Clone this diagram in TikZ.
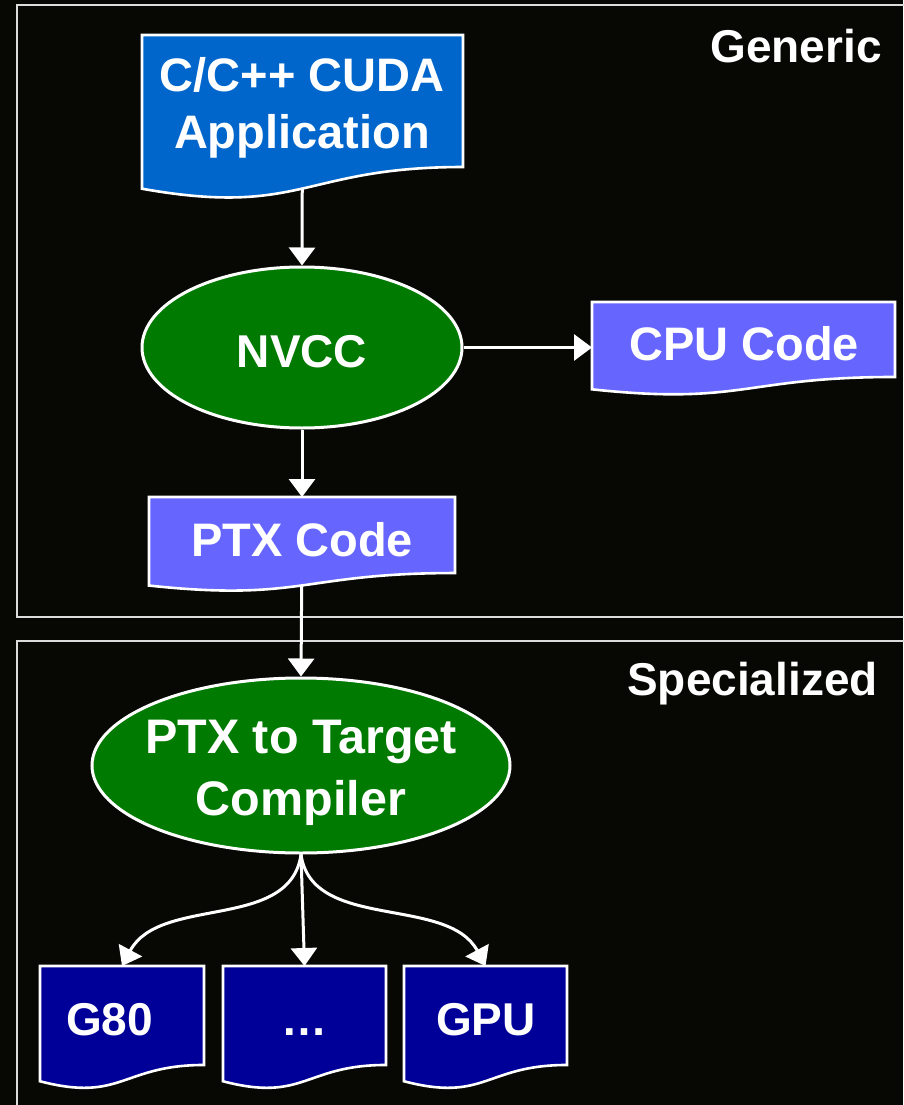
\documentclass[tikz,border=0pt]{standalone}
\usepackage{fontspec}
\setmainfont{Liberation Sans}
\usetikzlibrary{shapes.geometric,arrows.meta,calc}
\pgfdeclarelayer{bg}
\pgfdeclarelayer{shapes}
\pgfsetlayers{bg,shapes,main}
\definecolor{bgcol}{HTML}{070704}
\definecolor{appblue}{HTML}{0066CC}
\definecolor{codeblue}{HTML}{6666FF}
\definecolor{gpublue}{HTML}{000099}
\definecolor{nvgreen}{HTML}{007A00}
\definecolor{panelline}{HTML}{DCDCDC}
\newcommand\docfill[2]{%
  \path[docline,fill=#2] (#1.north west) -- (#1.north east)
   -- ($(#1.north east)!0.802!(#1.south east)$)
   .. controls ($(#1.north)!0.802!(#1.south)$) and ($(#1.north)!1.107!(#1.south)$)
   .. ($(#1.north west)!0.934!(#1.south west)$) -- cycle;}
\begin{document}
\begin{tikzpicture}[x=1pt,y=-1pt,
  doc/.style={rectangle, inner sep=0pt, outer sep=0pt},
  docline/.style={draw=white, line width=2.6pt, line join=miter},
  oval/.style={ellipse, draw=white, line width=3pt, fill=nvgreen, inner sep=0pt},
  txt/.style={text=white, font=\fontsize{46}{56}\selectfont\bfseries, inner sep=0pt, anchor=base},
  big/.style={font=\fontsize{47}{56}\selectfont\bfseries},
  bigger/.style={font=\fontsize{48.5}{56}\selectfont\bfseries},
  panel/.style={draw=panelline, line width=2pt},
  arr/.style={draw=white, line width=3pt, -{Triangle[width=26pt,length=18pt]}}]
\useasboundingbox (0,0) rectangle (903,1105);
\clip (0,0) rectangle (903,1105);

% document-shaped nodes (size only; filled on the shapes layer)
\node[doc, minimum width=321pt, minimum height=164.6pt] (app)  at (302.5,117.3) {};
\node[doc, minimum width=303pt, minimum height=93.5pt]  (cpu)  at (743.5,348.75) {};
\node[doc, minimum width=306pt, minimum height=94.8pt]  (ptx)  at (302,544.4) {};
\node[doc, minimum width=164pt, minimum height=123.4pt] (g80)  at (122,1027.7) {};
\node[doc, minimum width=163pt, minimum height=123.4pt] (dots) at (304.5,1027.7) {};
\node[doc, minimum width=163pt, minimum height=123.4pt] (gpu)  at (485.5,1027.7) {};

% ellipses
\node[oval, minimum width=320pt, minimum height=161pt] (nvcc) at (302,347.5) {};
\node[oval, minimum width=418pt, minimum height=175pt] (ptc)  at (301,765.5) {};

% texts
\node[txt, big] (appA) at (302,92)  {C/C++ CUDA};
\node[txt, big] (appB) at (302,148) {Application};
\node[txt] (nvccT) at (302,367) {NVCC};
\node[txt, big] (cpuT) at (744,360) {CPU Code};
\node[txt, big] (ptxT) at (302,556) {PTX Code};
\node[txt, bigger] (ptcA) at (301,753) {PTX to Target};
\node[txt, bigger] (ptcB) at (301,815) {Compiler};
\node[txt] (g80T) at (109.5,1035) {G80};
\node[txt] (dotsT) at (304,1035) {…};
\node[txt] (gpuT) at (486,1035) {GPU};
\node[txt, anchor=base east] (generic) at (882,63) {Generic};
\node[txt, anchor=base east] (special) at (878,695) {Specialized};

\begin{pgfonlayer}{bg}
  \fill[bgcol] (0,0) rectangle (903,1105);
  \draw[panel] (17,5) rectangle (930,617);
  \draw[panel] (17,641) rectangle (930,1130);
  \draw[arr] (app.center) -- (nvcc.north);
  \draw[arr] (nvcc.east) -- (nvcc.east -| cpu.west);
  \draw[arr] (nvcc.south) -- (ptx.north);
  \draw[arr] (ptx.center) -- (ptc.north);
  \draw[arr] (ptc.south) .. controls +(-11,77) and +(38,-71) .. (g80.north);
  \draw[arr] (ptc.south) -- (dots.north);
  \draw[arr] (ptc.south) .. controls +(11,77) and +(-38,-71) .. (gpu.north);
\end{pgfonlayer}

\begin{pgfonlayer}{shapes}
  \docfill{app}{appblue}
  \docfill{cpu}{codeblue}
  \docfill{ptx}{codeblue}
  \docfill{g80}{gpublue}
  \docfill{dots}{gpublue}
  \docfill{gpu}{gpublue}
\end{pgfonlayer}
\end{tikzpicture}
\end{document}
